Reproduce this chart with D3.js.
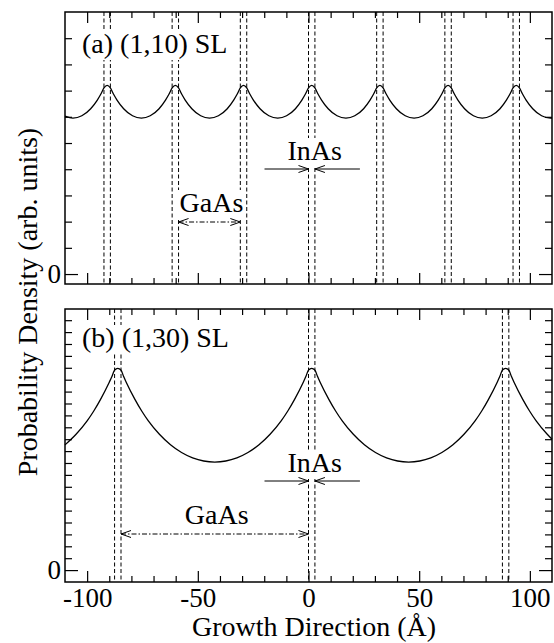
<!DOCTYPE html>
<html>
<head>
<meta charset="utf-8">
<script src="https://cdn.jsdelivr.net/npm/d3@7"></script>
</head>
<body style="margin:0">
<svg id="grafico" width="554" height="643" style="font-family: 'Liberation Serif', serif"></svg>
<script>
// interfaces InAs/GaAs (Angstrom) -> linhas tracejadas
var interfacesA = [-92.4, -89.5, -61.6, -58.7, -30.8, -27.9, 0, 2.9, 30.8, 33.7, 61.6, 64.5, 92.4, 95.3];
var interfacesB = [-87.6, -84.7, 0, 2.9, 87.6, 90.5];

// densidade de probabilidade [x, rho]
var densityA = [
    [-110, 6.03], [-106.4, 5.95], [-102.4, 6.04], [-98.4, 6.31], [-95.4, 6.64], [-93.85, 6.86],
    [-92.4, 7.10], [-90.95, 7.20], [-89.5, 7.10], [-88.05, 6.86], [-86.5, 6.64], [-83.5, 6.31],
    [-79.5, 6.04], [-75.5, 5.95], [-71.5, 6.04], [-67.5, 6.31], [-64.6, 6.64], [-63.05, 6.86],
    [-61.6, 7.10], [-60.15, 7.20], [-58.7, 7.10], [-57.25, 6.86], [-55.7, 6.64], [-52.7, 6.31],
    [-48.7, 6.04], [-44.7, 5.95], [-40.7, 6.04], [-36.7, 6.31], [-33.8, 6.64], [-32.25, 6.86],
    [-30.8, 7.10], [-29.35, 7.20], [-27.9, 7.10], [-26.45, 6.86], [-24.9, 6.64], [-21.9, 6.31],
    [-17.9, 6.04], [-13.9, 5.95], [-9.9, 6.04], [-5.9, 6.31], [-3.0, 6.64], [-1.45, 6.86],
    [0, 7.10], [1.45, 7.20], [2.9, 7.10], [4.35, 6.86], [5.9, 6.64], [8.9, 6.31],
    [12.9, 6.04], [16.9, 5.95], [20.9, 6.04], [24.9, 6.31], [27.8, 6.64], [29.35, 6.86],
    [30.8, 7.10], [32.25, 7.20], [33.7, 7.10], [35.15, 6.86], [36.7, 6.64], [39.7, 6.31],
    [43.7, 6.04], [47.7, 5.95], [51.7, 6.04], [55.7, 6.31], [58.6, 6.64], [60.15, 6.86],
    [61.6, 7.10], [63.05, 7.20], [64.5, 7.10], [65.95, 6.86], [67.5, 6.64], [70.5, 6.31],
    [74.5, 6.04], [78.5, 5.95], [82.5, 6.04], [86.5, 6.31], [89.4, 6.64], [90.95, 6.86],
    [92.4, 7.10], [93.85, 7.20], [95.3, 7.10], [96.75, 6.86], [98.3, 6.64], [101.3, 6.31],
    [105.3, 6.04], [109.3, 5.95], [110, 5.95]
];
var densityB = [
    [-110, 10.52], [-105, 11.41], [-100, 12.54], [-97, 13.37], [-94, 14.33], [-90, 15.79],
    [-88.75, 16.29], [-87.6, 16.80], [-86.15, 16.95], [-84.7, 16.80], [-83.55, 16.29], [-82.35, 15.79],
    [-78.35, 14.33], [-75.35, 13.37], [-72.35, 12.54], [-67.35, 11.41], [-62.35, 10.53], [-57.35, 9.88],
    [-52.35, 9.43], [-42.35, 9.08], [-32.35, 9.43], [-27.35, 9.88], [-22.35, 10.53], [-17.35, 11.41],
    [-12.35, 12.54], [-9.35, 13.37], [-6.35, 14.33], [-2.35, 15.79], [-1.15, 16.29], [0, 16.80],
    [1.45, 16.95], [2.9, 16.80], [4.05, 16.29], [5.25, 15.79], [9.25, 14.33], [12.25, 13.37],
    [15.25, 12.54], [20.25, 11.41], [25.25, 10.53], [30.25, 9.88], [35.25, 9.43], [45.25, 9.08],
    [55.25, 9.43], [60.25, 9.88], [65.25, 10.53], [70.25, 11.41], [75.25, 12.54], [78.25, 13.37],
    [81.25, 14.33], [85.25, 15.79], [86.45, 16.29], [87.6, 16.80], [89.05, 16.95], [90.5, 16.80],
    [91.65, 16.29], [92.85, 15.79], [96.85, 14.33], [99.85, 13.37], [102.85, 12.54], [107.85, 11.41],
    [110, 11.00]
];

var xMajorTicks = [-100, -50, 0, 50, 100];
var xMinorTicks = [-90, -80, -70, -60, -40, -30, -20, -10, 10, 20, 30, 40, 60, 70, 80, 90];
var yMinorTicksA = [1, 2, 3, 4, 5, 6, 7, 8, 9];
var yMinorTicksB = [1, 2, 3, 4, 5, 6, 7, 8, 9, 10, 11, 12, 13, 14, 15, 16, 17, 18, 19, 20, 21];

var svg = d3.select("#grafico");

var x = d3.scaleLinear().domain([-110, 110]).range([65, 552]);

var paineis = [
    {
        top: 12, bottom: 284, domain: [-0.38, 10.0], yMinor: yMinorTicksA,
        data: densityA, interfaces: interfacesA, label: "(a) (1,10) SL", labelY: 53,
        inasY: 169, gaasY: 222, gaas: [-58.7, -30.8], showXLabels: false
    },
    {
        top: 309, bottom: 582, domain: [-1, 21.94], yMinor: yMinorTicksB,
        data: densityB, interfaces: interfacesB, label: "(b) (1,30) SL", labelY: 347,
        inasY: 481, gaasY: 534, gaas: [-84.7, 0], showXLabels: true
    }
];

// fonte serifada em cada texto (atributo e estilo)
function serifa(sel) {
    sel.attr("font-family", "Liberation Serif")
        .style("font-family", "'Liberation Serif', serif");
}

// fundo branco atras do texto (largura estimada)
function textoComFundo(g, px, py, texto, anchor, largura) {
    var x0 = anchor === "middle" ? px - largura / 2 : px;
    g.append("rect")
        .attr("x", x0 - 2).attr("y", py - 22)
        .attr("width", largura + 4).attr("height", 29)
        .attr("fill", "#fff");
    g.append("text")
        .attr("x", px).attr("y", py)
        .attr("text-anchor", anchor)
        .attr("font-size", 28)
        .call(serifa)
        .text(texto);
}

function ponta(g, px, py, dir) {
    // ponta de seta aberta (dir = +1 aponta para a direita)
    g.append("path")
        .attr("d", "M" + (px - dir * 10) + "," + (py - 3.5) + "L" + px + "," + py + "L" + (px - dir * 10) + "," + (py + 3.5))
        .attr("fill", "none").attr("stroke", "#000").attr("stroke-width", 1);
}

function estiloEixo(sel) {
    sel.select(".domain").remove();
    sel.attr("font-family", null).attr("font-size", 27).call(serifa);
    sel.selectAll("line").attr("stroke", "#000").attr("stroke-width", 1.2);
    sel.selectAll("text").attr("fill", "#000").attr("font-size", 27).call(serifa);
}

paineis.forEach(function (p) {
    var y = d3.scaleLinear().domain(p.domain).range([p.bottom, p.top]);
    var g = svg.append("g");

    // linhas tracejadas nas interfaces
    g.selectAll(".interface")
        .data(p.interfaces)
        .enter()
        .append("line")
        .attr("x1", function (d) { return x(d); })
        .attr("x2", function (d) { return x(d); })
        .attr("y1", p.top).attr("y2", p.bottom)
        .attr("stroke", "#000").attr("stroke-width", 1)
        .attr("stroke-dasharray", "4,2.5");

    // rotulo do painel
    textoComFundo(g, 82, p.labelY, p.label, "start", 146);

    // InAs
    var x0 = x(p.interfaces[p.interfaces.indexOf(0)]);
    var x1 = x(p.interfaces[p.interfaces.indexOf(0) + 1]);
    textoComFundo(g, (x0 + x1) / 2 + 3, p.inasY - 9, "InAs", "middle", 54);
    g.append("line").attr("x1", x0 - 44).attr("x2", x0).attr("y1", p.inasY).attr("y2", p.inasY)
        .attr("stroke", "#000").attr("stroke-width", 1);
    ponta(g, x0, p.inasY, 1);
    g.append("line").attr("x1", x1 + 45).attr("x2", x1).attr("y1", p.inasY).attr("y2", p.inasY)
        .attr("stroke", "#000").attr("stroke-width", 1);
    ponta(g, x1, p.inasY, -1);

    // GaAs
    var ga = x(p.gaas[0]), gb = x(p.gaas[1]);
    textoComFundo(g, (ga + gb) / 2 + 2, p.gaasY - 10, "GaAs", "middle", 64);
    g.append("line").attr("x1", ga).attr("x2", gb).attr("y1", p.gaasY).attr("y2", p.gaasY)
        .attr("stroke", "#000").attr("stroke-width", 1)
        .attr("stroke-dasharray", "5,2,1.5,2");
    ponta(g, ga, p.gaasY, -1);
    ponta(g, gb, p.gaasY, 1);

    // curva
    var linha = d3.line()
        .x(function (d) { return x(d[0]); })
        .y(function (d) { return y(d[1]); })
        .curve(d3.curveMonotoneX);
    g.append("path")
        .datum(p.data)
        .attr("d", linha)
        .attr("fill", "none")
        .attr("stroke", "#000")
        .attr("stroke-width", 1.3);

    // eixos (ticks para dentro)
    var bx = g.append("g").attr("transform", "translate(0," + p.bottom + ")");
    bx.append("g").call(d3.axisBottom(x).tickValues(xMinorTicks).tickSize(-6).tickFormat("")).call(estiloEixo);
    bx.append("g").call(d3.axisBottom(x).tickValues(xMajorTicks).tickSizeInner(-11).tickSizeOuter(0).tickPadding(6)
        .tickFormat(function (d) { return p.showXLabels ? String(d) : ""; })).call(estiloEixo);

    var tx = g.append("g").attr("transform", "translate(0," + p.top + ")");
    tx.append("g").call(d3.axisTop(x).tickValues(xMinorTicks).tickSize(-6).tickFormat("")).call(estiloEixo);
    tx.append("g").call(d3.axisTop(x).tickValues(xMajorTicks).tickSize(-11).tickFormat("")).call(estiloEixo);

    var ly = g.append("g").attr("transform", "translate(65,0)");
    ly.append("g").call(d3.axisLeft(y).tickValues(p.yMinor).tickSize(-7).tickFormat("")).call(estiloEixo);
    ly.append("g").call(d3.axisLeft(y).tickValues([0]).tickSizeInner(-13).tickSizeOuter(0).tickPadding(4)
        .tickFormat(function (d) { return String(d); })).call(estiloEixo);

    var ry = g.append("g").attr("transform", "translate(552,0)");
    ry.append("g").call(d3.axisRight(y).tickValues(p.yMinor).tickSize(-7).tickFormat("")).call(estiloEixo);
    ry.append("g").call(d3.axisRight(y).tickValues([0]).tickSize(-13).tickFormat("")).call(estiloEixo);

    // moldura
    g.append("rect")
        .attr("x", 65).attr("y", p.top)
        .attr("width", 552 - 65).attr("height", p.bottom - p.top)
        .attr("fill", "none").attr("stroke", "#000").attr("stroke-width", 1.5);
});

// titulos dos eixos
svg.append("text")
    .attr("transform", "translate(37,302) rotate(-90)")
    .attr("text-anchor", "middle")
    .attr("font-size", 28)
    .call(serifa)
    .text("Probability Density (arb. units)");

svg.append("text")
    .attr("x", 314).attr("y", 636)
    .attr("text-anchor", "middle")
    .attr("font-size", 28)
    .call(serifa)
    .text("Growth Direction (\u00C5)");
</script>
</body>
</html>
